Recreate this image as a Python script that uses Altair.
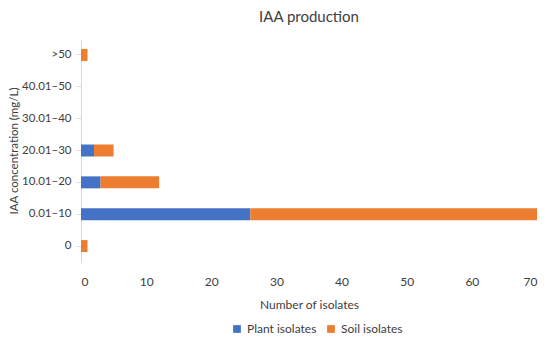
import altair as alt
import pandas as pd

categories = [">50", "40.01–50", "30.01–40", "20.01–30", "10.01–20", "0.01–10", "0"]
plant = [0, 0, 0, 2, 3, 26, 0]
soil = [1, 0, 0, 3, 9, 44, 1]
series = ["Plant isolates", "Soil isolates"]
colors = ["#4472C4", "#ED7D31"]

rows = []
for c, p, s in zip(categories, plant, soil):
    rows.append({"cat": c, "series": series[0], "value": p, "ord": 0})
    rows.append({"cat": c, "series": series[1], "value": s, "ord": 1})
df = pd.DataFrame(rows)

font = "Lato"
chart = alt.Chart(df).mark_bar(size=12).encode(
    y=alt.Y("cat:N", sort=categories, scale=alt.Scale(paddingInner=0.6, paddingOuter=0.3),
            axis=alt.Axis(title="IAA concentration (mg/L)", domainColor="#d9d9d9", tickColor="#d9d9d9",
                          tickSize=5, labelFontSize=11.5, labelColor="#404040", titleFontSize=11.5,
                          titleFontWeight="normal", titleColor="#404040", titleX=-62,
                          labelPadding=5, labelFont=font, titleFont=font, grid=False)),
    x=alt.X("value:Q", stack="zero", scale=alt.Scale(domain=[0, 70], nice=False),
            axis=alt.Axis(title="Number of isolates", values=list(range(0, 71, 10)), domain=False,
                          ticks=False, grid=False, labelFontSize=12, labelColor="#404040",
                          titleFontSize=12, titleFontWeight="normal", titleColor="#404040",
                          labelPadding=14, titlePadding=12, labelFont=font, titleFont=font)),
    color=alt.Color("series:N", scale=alt.Scale(domain=series, range=colors),
                    legend=alt.Legend(title=None, orient="none", legendX=150, legendY=284,
                                      direction="horizontal",
                                      symbolType="square", symbolSize=60, labelFontSize=12,
                                      labelColor="#404040", labelFont=font,
                                      columnPadding=8, symbolStrokeWidth=0)),
    order=alt.Order("ord:Q"),
).properties(
    width=456, height=223,
    title=alt.TitleParams("IAA production", fontSize=15, fontWeight="normal", color="#404040",
                          font=font, offset=14),
    autosize=alt.AutoSizeParams(type="none"),
    padding={"left": 73, "top": 31, "right": 5, "bottom": 75},
).configure(background="white").configure_view(strokeWidth=0)

chart.save("out.html", embed_options={"renderer": "svg", "actions": False})
